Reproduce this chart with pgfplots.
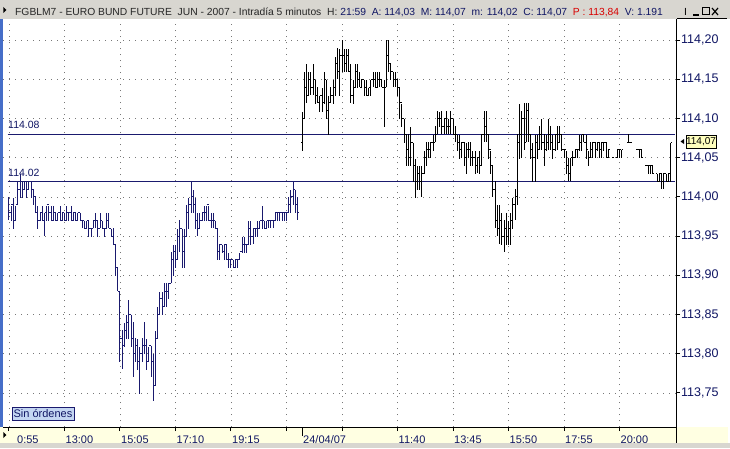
\documentclass[border=0pt]{standalone}
\usepackage{fontspec}
\setmainfont{Liberation Sans}
\usepackage{pgfplots}
\pgfplotsset{compat=1.18}
\usepackage{pgfplotstable}
\definecolor{navyc}{RGB}{26,26,110}
\definecolor{labc}{RGB}{16,22,100}
\definecolor{titlebg}{RGB}{216,214,208}
\definecolor{axisbg}{RGB}{255,255,226}
\definecolor{gridc}{RGB}{120,120,120}
\definecolor{sinbg}{RGB}{196,214,242}
\definecolor{winblue}{RGB}{70,110,200}
\definecolor{pricebox}{RGB}{255,255,190}
\newcommand\ff[1]{\fontsize{#1}{#1}\selectfont}

\pgfplotstableread{
k o h l c
0 113.99 114.00 113.97 113.98
1 113.98 113.99 113.97 113.99
2 113.99 114.00 113.96 113.97
3 113.97 113.99 113.97 113.99
4 113.99 114.02 113.99 114.01
5 114.01 114.03 114.00 114.02
6 114.02 114.02 114.00 114.01
7 114.01 114.02 114.01 114.02
8 114.02 114.02 114.00 114.01
9 114.01 114.02 114.01 114.02
10 114.02 114.02 114.00 114.01
11 114.01 114.01 113.99 114.00
12 114.00 114.00 113.98 113.98
13 113.98 113.99 113.96 113.97
14 113.97 113.98 113.97 113.98
15 113.98 113.99 113.97 113.97
16 113.97 113.98 113.95 113.98
17 113.98 113.99 113.97 113.99
18 113.99 113.99 113.97 113.98
19 113.98 113.99 113.97 113.97
20 113.97 113.99 113.97 113.98
21 113.98 113.98 113.97 113.97
22 113.97 113.98 113.97 113.98
23 113.98 113.99 113.97 113.97
24 113.97 113.98 113.97 113.98
25 113.98 113.98 113.97 113.97
26 113.97 113.99 113.97 113.98
27 113.98 113.98 113.97 113.98
28 113.98 113.99 113.97 113.97
29 113.97 113.98 113.97 113.98
30 113.98 113.98 113.97 113.97
31 113.97 113.98 113.97 113.98
32 113.98 113.98 113.97 113.97
33 113.97 113.97 113.96 113.97
34 113.97 113.97 113.96 113.96
35 113.96 113.97 113.96 113.97
36 113.97 113.97 113.95 113.96
37 113.96 113.96 113.95 113.96
38 113.96 113.97 113.96 113.97
39 113.97 113.98 113.96 113.97
40 113.97 113.97 113.95 113.96
41 113.96 113.98 113.96 113.97
42 113.97 113.97 113.96 113.96
43 113.96 113.96 113.95 113.96
44 113.96 113.98 113.96 113.97
45 113.97 113.98 113.96 113.96
46 113.96 113.96 113.95 113.95
47 113.95 113.96 113.94 113.94
48 113.94 113.94 113.90 113.91
49 113.91 113.91 113.88 113.88
50 113.88 113.88 113.79 113.82
51 113.82 113.83 113.78 113.81
52 113.81 113.84 113.81 113.83
53 113.83 113.85 113.82 113.84
54 113.84 113.87 113.82 113.85
55 113.85 113.85 113.81 113.82
56 113.82 113.84 113.77 113.80
57 113.80 113.82 113.79 113.81
58 113.81 113.82 113.78 113.79
59 113.79 113.81 113.75 113.80
60 113.80 113.82 113.79 113.81
61 113.81 113.84 113.80 113.81
62 113.81 113.82 113.78 113.79
63 113.79 113.81 113.79 113.81
64 113.81 113.81 113.77 113.79
65 113.79 113.80 113.74 113.76
66 113.76 113.83 113.76 113.82
67 113.82 113.86 113.82 113.85
68 113.85 113.88 113.85 113.87
69 113.87 113.88 113.85 113.86
70 113.86 113.89 113.86 113.88
71 113.88 113.89 113.86 113.88
72 113.88 113.89 113.87 113.89
73 113.89 113.93 113.89 113.92
74 113.92 113.94 113.90 113.93
75 113.93 113.94 113.91 113.92
76 113.92 113.96 113.92 113.95
77 113.95 113.97 113.93 113.96
78 113.96 113.96 113.91 113.93
79 113.93 113.96 113.91 113.95
80 113.95 113.99 113.95 113.98
81 113.98 114.00 113.96 113.99
82 113.99 114.02 113.98 114.00
83 114.00 114.01 113.98 113.99
84 113.99 114.00 113.96 113.97
85 113.97 113.98 113.95 113.96
86 113.96 113.98 113.96 113.97
87 113.97 113.98 113.97 113.98
88 113.98 113.99 113.97 113.98
89 113.98 113.99 113.97 113.99
90 113.99 113.99 113.97 113.97
91 113.97 113.98 113.96 113.97
92 113.97 113.98 113.96 113.97
93 113.97 113.97 113.96 113.96
94 113.96 113.96 113.92 113.93
95 113.93 113.94 113.92 113.94
96 113.94 113.94 113.93 113.93
97 113.93 113.94 113.92 113.94
98 113.94 113.94 113.92 113.92
99 113.92 113.93 113.91 113.92
100 113.92 113.92 113.91 113.92
101 113.92 113.92 113.91 113.91
102 113.91 113.92 113.91 113.92
103 113.92 113.92 113.91 113.92
104 113.92 113.93 113.92 113.93
105 113.93 113.95 113.93 113.94
106 113.94 113.95 113.93 113.94
107 113.94 113.94 113.93 113.94
108 113.94 113.97 113.94 113.96
109 113.96 113.97 113.94 113.95
110 113.95 113.96 113.94 113.96
111 113.96 113.96 113.95 113.96
112 113.96 113.97 113.95 113.96
113 113.96 113.97 113.96 113.97
114 113.97 113.99 113.96 113.97
115 113.97 113.97 113.96 113.96
116 113.96 113.97 113.96 113.97
117 113.97 113.97 113.96 113.97
118 113.97 113.97 113.96 113.97
119 113.97 113.97 113.96 113.97
120 113.97 113.98 113.97 113.98
121 113.98 113.98 113.97 113.98
122 113.98 113.98 113.97 113.98
123 113.98 113.98 113.97 113.98
124 113.98 113.98 113.97 113.98
125 113.98 113.98 113.97 113.98
126 113.98 114.00 113.98 113.99
127 113.99 114.01 113.98 114.00
128 114.00 114.02 113.99 114.01
129 114.01 114.01 113.98 113.99
130 113.99 114.00 113.97 113.98
}\dayone

\pgfplotstableread{
k o h l c
132 114.07 114.11 114.06 114.10
133 114.10 114.16 114.10 114.14
134 114.14 114.17 114.12 114.13
135 114.13 114.16 114.13 114.15
136 114.15 114.16 114.13 114.14
137 114.14 114.17 114.13 114.15
138 114.15 114.15 114.12 114.13
139 114.13 114.14 114.12 114.12
140 114.12 114.13 114.11 114.13
141 114.13 114.14 114.11 114.12
142 114.12 114.16 114.12 114.15
143 114.15 114.15 114.10 114.11
144 114.11 114.13 114.08 114.12
145 114.12 114.14 114.12 114.13
146 114.13 114.15 114.12 114.14
147 114.14 114.18 114.13 114.17
148 114.17 114.19 114.15 114.16
149 114.16 114.19 114.13 114.18
150 114.18 114.20 114.16 114.18
151 114.18 114.19 114.16 114.17
152 114.17 114.19 114.16 114.18
153 114.18 114.19 114.16 114.16
154 114.16 114.17 114.12 114.13
155 114.13 114.15 114.12 114.14
156 114.14 114.17 114.14 114.16
157 114.16 114.17 114.14 114.15
158 114.15 114.16 114.14 114.14
159 114.14 114.15 114.14 114.15
160 114.15 114.15 114.13 114.14
161 114.14 114.15 114.13 114.13
162 114.13 114.14 114.13 114.14
163 114.14 114.15 114.13 114.15
164 114.15 114.16 114.14 114.15
165 114.15 114.16 114.14 114.14
166 114.14 114.16 114.14 114.15
167 114.15 114.16 114.14 114.15
168 114.15 114.15 114.14 114.14
169 114.14 114.15 114.09 114.14
170 114.14 114.20 114.14 114.18
171 114.18 114.20 114.16 114.17
172 114.17 114.17 114.15 114.16
173 114.16 114.16 114.14 114.15
174 114.15 114.16 114.14 114.15
175 114.15 114.15 114.13 114.14
176 114.14 114.14 114.10 114.12
177 114.12 114.12 114.09 114.10
178 114.10 114.10 114.07 114.08
179 114.08 114.08 114.04 114.06
180 114.06 114.08 114.04 114.05
181 114.05 114.09 114.04 114.07
182 114.07 114.07 114.02 114.04
183 114.04 114.05 114.00 114.02
184 114.02 114.04 114.01 114.03
185 114.03 114.04 114.01 114.02
186 114.02 114.04 114.00 114.03
187 114.03 114.06 114.03 114.05
188 114.05 114.07 114.04 114.06
189 114.06 114.07 114.05 114.06
190 114.06 114.07 114.05 114.07
191 114.07 114.08 114.06 114.07
192 114.07 114.09 114.07 114.08
193 114.08 114.11 114.08 114.10
194 114.10 114.11 114.09 114.10
195 114.10 114.11 114.08 114.09
196 114.09 114.10 114.08 114.10
197 114.10 114.11 114.08 114.09
198 114.09 114.10 114.08 114.09
199 114.09 114.11 114.08 114.10
200 114.10 114.10 114.08 114.08
201 114.08 114.09 114.07 114.08
202 114.08 114.08 114.06 114.07
203 114.07 114.08 114.05 114.06
204 114.06 114.07 114.05 114.07
205 114.07 114.07 114.04 114.05
206 114.05 114.07 114.03 114.06
207 114.06 114.07 114.05 114.06
208 114.06 114.07 114.04 114.05
209 114.05 114.06 114.04 114.05
210 114.05 114.06 114.03 114.04
211 114.04 114.05 114.03 114.05
212 114.05 114.06 114.03 114.04
213 114.04 114.08 114.04 114.08
214 114.08 114.11 114.07 114.09
215 114.09 114.11 114.07 114.08
216 114.08 114.08 114.05 114.06
217 114.06 114.06 114.03 114.04
218 114.04 114.04 114.00 114.01
219 114.01 114.02 113.96 113.97
220 113.97 113.99 113.95 113.96
221 113.96 113.99 113.94 113.97
222 113.97 113.98 113.94 113.95
223 113.95 113.97 113.93 113.96
224 113.96 113.98 113.94 113.95
225 113.95 113.97 113.94 113.96
226 113.96 113.98 113.94 113.97
227 113.97 114.00 113.96 113.99
228 113.99 114.01 113.97 114.00
229 114.00 114.08 113.99 114.07
230 114.07 114.12 114.05 114.08
231 114.08 114.11 114.05 114.10
232 114.10 114.12 114.06 114.07
233 114.07 114.12 114.07 114.11
234 114.11 114.12 114.07 114.08
235 114.08 114.08 114.05 114.06
236 114.06 114.07 114.02 114.05
237 114.05 114.08 114.02 114.07
238 114.07 114.08 114.05 114.06
239 114.06 114.09 114.06 114.08
240 114.08 114.10 114.06 114.07
241 114.07 114.08 114.04 114.06
242 114.06 114.08 114.06 114.07
243 114.07 114.10 114.06 114.08
244 114.08 114.09 114.06 114.07
245 114.07 114.08 114.05 114.06
246 114.06 114.08 114.06 114.08
247 114.08 114.09 114.06 114.07
248 114.07 114.09 114.07 114.08
249 114.08 114.08 114.06 114.06
250 114.06 114.06 114.05 114.06
251 114.06 114.06 114.03 114.04
252 114.04 114.05 114.02 114.03
253 114.03 114.05 114.02 114.05
254 114.05 114.06 114.04 114.05
255 114.05 114.06 114.05 114.06
256 114.06 114.06 114.05 114.06
257 114.06 114.08 114.06 114.07
258 114.07 114.08 114.06 114.08
259 114.08 114.08 114.07 114.07
260 114.07 114.08 114.05 114.06
261 114.06 114.06 114.04 114.05
262 114.05 114.07 114.05 114.06
263 114.06 114.07 114.05 114.07
264 114.07 114.07 114.05 114.06
265 114.06 114.07 114.06 114.07
266 114.07 114.07 114.05 114.06
267 114.06 114.07 114.05 114.07
268 114.07 114.07 114.06 114.07
269 114.07 114.07 114.05 114.05
270 114.05 114.06 114.05 114.06
272 114.05 114.05 114.05 114.05
274 114.05 114.06 114.05 114.06
275 114.06 114.06 114.05 114.06
276 114.05 114.06 114.05 114.06
279 114.07 114.08 114.07 114.07
280 114.07 114.07 114.07 114.07
283 114.06 114.06 114.06 114.06
284 114.06 114.06 114.05 114.06
285 114.06 114.06 114.05 114.05
287 114.04 114.04 114.04 114.04
288 114.04 114.04 114.03 114.04
289 114.04 114.04 114.03 114.04
290 114.04 114.04 114.03 114.03
292 114.03 114.03 114.02 114.02
293 114.02 114.03 114.02 114.03
294 114.03 114.03 114.01 114.02
295 114.02 114.03 114.01 114.03
296 114.03 114.03 114.02 114.02
297 114.02 114.03 114.02 114.03
298 114.03 114.07 114.02 114.07
}\daytwo

\begin{document}
\begin{tikzpicture}[x=1pt,y=1pt]
% window frame pieces
\fill[white] (0,0) rectangle (730,448);
\fill[titlebg] (0,429) rectangle (730,448);
\fill[axisbg] (0,5) rectangle (728,21);
\fill[titlebg] (0,0) rectangle (730,5);
\fill[winblue] (0,21) rectangle (2.5,429);
\fill[black] (3.3,441) -- (6.5,438) -- (3.3,435) -- cycle;
\fill[black] (3.3,16) -- (6.5,13) -- (3.3,10) -- cycle;

\begin{axis}[
  at={(3pt,21pt)}, anchor=south west,
  scale only axis, width=673pt, height=408pt,
  xmin=-2.7, xmax=300.45,
  ymin=113.7066, ymax=114.2270,
  axis x line*=bottom, axis y line*=right,
  axis line style={black, line width=1pt},
  tick align=outside, major tick length=4pt,
  tick style={black, line width=1pt},
  xtick={0,25,50,75,100,125,150,175,200,225,250,275},
  xticklabels={\hspace*{7pt}0:55,13:00,15:05,17:10,19:15,,,11:40,13:45,15:50,17:55,20:00},
  extra x ticks={132},
  extra x tick labels={24/04/07},
  extra x tick style={xmajorgrids=false, major tick length=9pt,
     xticklabel style={yshift=5pt}},
  xticklabel style={anchor=north west, inner sep=0pt, xshift=1pt, yshift=-4.5pt,
     font=\ff{11}, text=labc},
  ytick={113.75,113.8,113.85,113.9,113.95,114,114.05,114.1,114.15,114.2},
  yticklabel style={font=\ff{12.5}, text=labc, inner sep=1pt,
     /pgf/number format/.cd, fixed, fixed zerofill, precision=2, use comma,
     assume math mode=true},
  xmajorgrids, ymajorgrids,
  grid style={gridc, line width=0.9pt, dash pattern=on 0.9pt off 5.1pt},
]
% reference levels
\addplot[navyc, line width=1.1pt] coordinates {(-0.6,114.08) (300,114.08)};
\addplot[navyc, line width=1.1pt] coordinates {(-0.6,114.02) (300,114.02)};
% day 1 (navy) OHLC
\addplot[draw=none, mark=none, error bars/.cd, y dir=both, y explicit, error mark=none,
  error bar style={draw=navyc, line width=1pt}]
  table[x=k, y expr={(\thisrow{h}+\thisrow{l})/2}, y error expr={(\thisrow{h}-\thisrow{l})/2}] {\dayone};
\addplot[draw=none, mark=none, error bars/.cd, x dir=minus, x fixed=0.55, error mark=none,
  error bar style={draw=navyc, line width=1pt}]
  table[x=k, y=o] {\dayone};
\addplot[draw=none, mark=none, error bars/.cd, x dir=plus, x fixed=0.55, error mark=none,
  error bar style={draw=navyc, line width=1pt}]
  table[x=k, y=c] {\dayone};
% day 2 (black) OHLC
\addplot[draw=none, mark=none, error bars/.cd, y dir=both, y explicit, error mark=none,
  error bar style={draw=black, line width=1pt}]
  table[x=k, y expr={(\thisrow{h}+\thisrow{l})/2}, y error expr={(\thisrow{h}-\thisrow{l})/2}] {\daytwo};
\addplot[draw=none, mark=none, error bars/.cd, x dir=minus, x fixed=0.55, error mark=none,
  error bar style={draw=black, line width=1pt}]
  table[x=k, y=o] {\daytwo};
\addplot[draw=none, mark=none, error bars/.cd, x dir=plus, x fixed=0.55, error mark=none,
  error bar style={draw=black, line width=1pt}]
  table[x=k, y=c] {\daytwo};
\end{axis}

% axis line continuation into the bottom strip
\draw[black, line width=1pt] (676,5) -- (676,21);
\draw[black, line width=0.8pt] (677,430) -- (727,430);

% level labels
\node[anchor=base west, inner sep=0, text=labc, font=\ff{10.5}] at (8,319.5) {114.08};
\node[anchor=base west, inner sep=0, text=labc, font=\ff{10.5}] at (8,271.5) {114.02};

% title bar
\node[anchor=base west, inner sep=0, font=\ff{10.3}, text=black!85] at (15,432)
  {FGBLM7 - EURO BUND FUTURE\ \ JUN - 2007 - Intradía 5 minutos\ \ H: \textcolor{labc}{21:59\ \ A: 114,03\ \ M: 114,07\ \ m: 114,02\ \ C: 114,07}\ \ \textcolor{red!85!black}{P : 113,84}\ \ \textcolor{labc}{V: 1.191}};
\node[anchor=base west, inner sep=0, font=\ff{10.3}, text=black] at (684,432) {I};
\draw[black, line width=1.2pt] (693,433) -- (699,433);
\draw[black, line width=1pt] (702,433) rectangle (709,440);
\draw[black, line width=1.2pt] (712,433) -- (718,440) (712,440) -- (718,433);

% current price box
\fill[black] (680.5,306.5) -- (684,309) -- (684,304) -- cycle;
\draw[black, line width=0.6pt, fill=pricebox] (686,300) rectangle (716,313);
\node[font=\ff{10}, text=black, inner sep=0] at (701,306.5) {114,07};

% order box
\draw[navyc, line width=0.7pt, fill=sinbg] (12,28) rectangle (74,41);
\node[font=\ff{11}, text=labc, inner sep=0] at (43,34.2) {Sin órdenes};
\end{tikzpicture}
\end{document}
